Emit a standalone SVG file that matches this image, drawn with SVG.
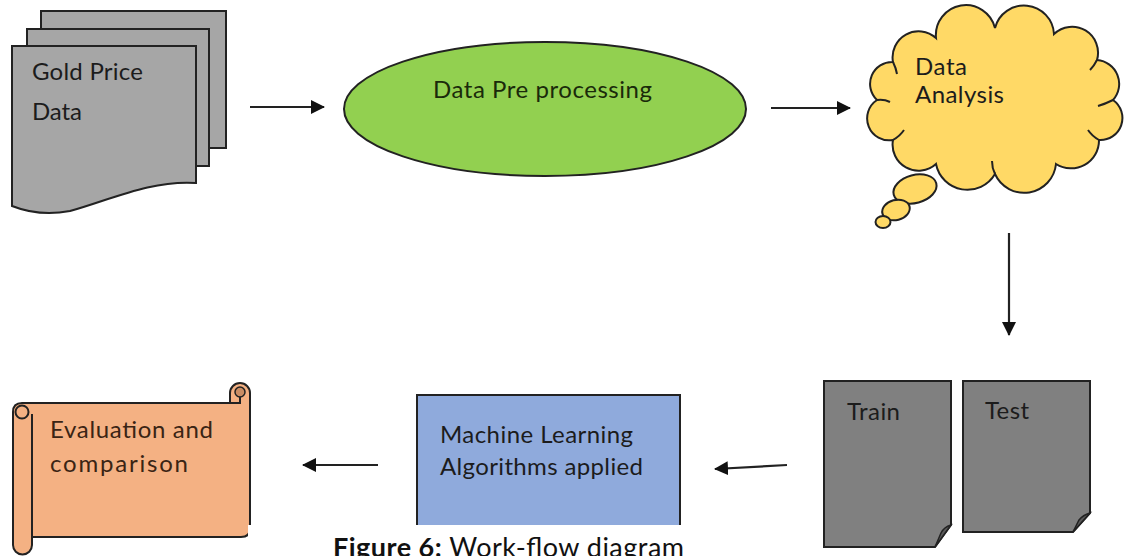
<svg xmlns="http://www.w3.org/2000/svg" width="1129" height="556" viewBox="0 0 1129 556">
  <defs>
    <marker id="arrow" viewBox="0 0 14 14" refX="13" refY="7" markerWidth="14" markerHeight="14" markerUnits="userSpaceOnUse" orient="auto">
      <path d="M0 0 L14 7 L0 14 Z" fill="#111"/>
    </marker>
    <style>
      .lbl { font-family: Lato, "Open Sans", "Liberation Sans", sans-serif; font-size: 24px; fill: #1c1c1c; }
      .edge { stroke: #222; stroke-width: 2; }
      .line { stroke: #222; stroke-width: 2; fill: none; }
      .conn { stroke: #222; stroke-width: 2.2; fill: none; marker-end: url(#arrow); }
      .gold { fill: #a6a6a6; }
      .doc { fill: #808080; }
      .cloud { fill: #ffd966; }
      .scroll { fill: #f4b183; }
    </style>
  </defs>
  <rect width="1129" height="556" fill="#fff"/>

  <!-- stacked documents -->
  <g id="gold-data">
    <rect x="41" y="11" width="185" height="137" class="edge gold"/>
    <rect x="27" y="29" width="182" height="137" class="edge gold"/>
    <path d="M12 46 H196 V183 C150 180 110 200 70 211 Q40 217 12 206 Z" class="edge gold"/>
    <text class="lbl" x="32" y="80" textLength="111">Gold Price</text>
    <text class="lbl" x="32" y="120" textLength="50">Data</text>
  </g>

  <!-- ellipse process -->
  <g id="preprocessing">
    <ellipse cx="545" cy="109" rx="201" ry="67" fill="#92d050" class="edge"/>
    <text class="lbl" x="433" y="98" textLength="219" style="fill:#1a2a0a">Data Pre processing</text>
  </g>

  <!-- thought cloud -->
  <g id="analysis">
    <path d="M877 100
             A 22 22 0 0 1 893 62
             A 26 26 0 0 1 936 38
             A 30 30 0 0 1 995 28
             A 30 30 0 0 1 1054 34
             A 26 26 0 0 1 1097 60
             A 24 24 0 0 1 1113 100
             A 22 22 0 0 1 1099 140
             A 28 28 0 0 1 1056 164
             A 32 32 0 0 1 995 174
             A 32 32 0 0 1 936 164
             A 26 26 0 0 1 893 140
             A 22 22 0 0 1 877 100 Z" class="edge cloud"/>
    <path d="M877 100 Q884 99 890 102 M893 62 Q896 68 897 74 M1097 60 Q1094 66 1090 70 M1113 100 Q1105 104 1098 106 M1099 140 Q1092 136 1088 130 M995 174 Q992 168 992 161 M893 140 Q900 136 904 130" class="line"/>
    <ellipse cx="915" cy="189" rx="22" ry="14" transform="rotate(-15 915 189)" class="edge cloud"/>
    <ellipse cx="896" cy="210" rx="14" ry="10" transform="rotate(-15 896 210)" class="edge cloud"/>
    <ellipse cx="883" cy="222" rx="7.5" ry="6" class="edge cloud"/>
    <text class="lbl" x="915" y="75" textLength="52">Data</text>
    <text class="lbl" x="915" y="103" textLength="89">Analysis</text>
  </g>

  <!-- split documents -->
  <g id="train">
    <path d="M824 381 H951 V525 L935 547 H824 Z" class="edge doc"/>
    <path d="M951 525 Q944 527 941 533 L935 547 Z" fill="#5a5a5a" stroke="#222" stroke-width="1.5"/>
    <text class="lbl" x="847" y="420" textLength="53">Train</text>
  </g>
  <g id="test">
    <path d="M963 381 H1090 V513 L1073 532 H963 Z" class="edge doc"/>
    <path d="M1090 513 Q1083 515 1079 520 L1073 532 Z" fill="#5a5a5a" stroke="#222" stroke-width="1.5"/>
    <text class="lbl" x="985" y="419" textLength="44">Test</text>
  </g>

  <!-- algorithm box -->
  <g id="ml">
    <rect x="417" y="395" width="263" height="150" fill="#8faadc" class="edge"/>
    <text class="lbl" x="440" y="443" textLength="193">Machine Learning</text>
    <text class="lbl" x="440" y="475" textLength="203">Algorithms applied</text>
  </g>

  <!-- scroll -->
  <g id="evaluation">
    <path d="M13 412 Q13 403 22 403 H230 V393 A10 10 0 0 1 250 393 V528 Q250 537 241 537 H32 V545 A9.5 9.5 0 0 1 13 545 Z" class="edge scroll"/>
    <path d="M32 537 V414" class="line"/>
    <circle cx="22" cy="412" r="6.5" class="edge scroll"/>
    <path d="M230 403 H240 V396" class="line"/>
    <circle cx="240" cy="392" r="5" fill="#c98d64" stroke="#222" stroke-width="1.5"/>
    <text class="lbl" x="50" y="438" textLength="163" style="fill:#3a2414">Evaluation and</text>
    <text class="lbl" x="50" y="472" textLength="138" style="fill:#3a2414">comparison</text>
  </g>

  <!-- connectors -->
  <g id="connectors">
    <line x1="250" y1="107" x2="324" y2="107" class="conn"/>
    <line x1="771" y1="108" x2="850" y2="108" class="conn"/>
    <line x1="1009" y1="233" x2="1009" y2="335" class="conn"/>
    <line x1="787" y1="465" x2="715" y2="469" class="conn"/>
    <line x1="378" y1="465" x2="303" y2="465" class="conn"/>
  </g>

  <!-- caption strip -->
  <g id="caption">
    <rect x="248" y="525" width="565" height="31" fill="#fff"/>
    <text x="333" y="557" textLength="351" font-family="Lato, 'Open Sans', 'Liberation Sans', sans-serif" font-size="27" fill="#111"><tspan font-weight="bold">Figure 6:</tspan> Work-flow diagram</text>
  </g>
</svg>
